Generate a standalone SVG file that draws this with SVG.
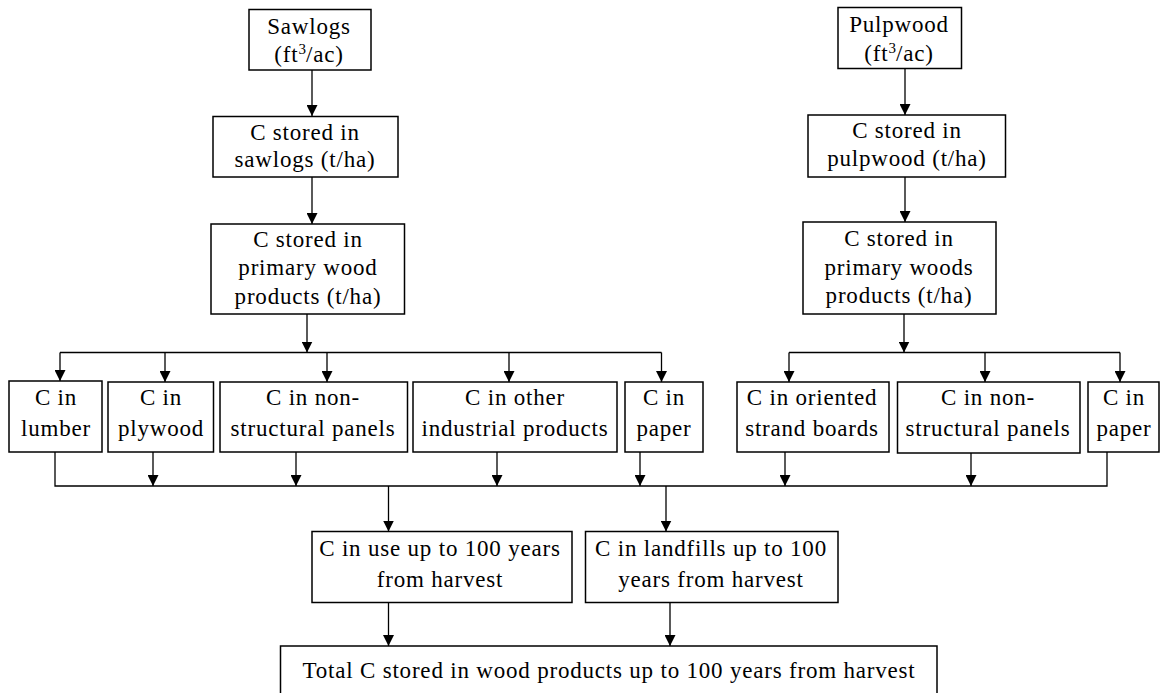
<svg xmlns="http://www.w3.org/2000/svg" width="1160" height="693" viewBox="0 0 1160 693">
<defs>
<style>
.box{fill:#fff;stroke:#000;stroke-width:1.5}
.ln{fill:none;stroke:#000;stroke-width:1.3}
text{font-family:"Liberation Serif","Times New Roman",serif;font-size:23px;letter-spacing:0.8px;fill:#000;text-anchor:middle}
.sup{font-size:15px;letter-spacing:0}
</style>
<marker id="ah" viewBox="0 0 11 11" refX="11" refY="5.5" markerWidth="11" markerHeight="11" markerUnits="userSpaceOnUse" orient="auto">
<path d="M0,0 L11,5.5 L0,11 z" fill="#000"/>
</marker>
</defs>
<rect width="1160" height="693" fill="#fff"/>

<g id="connectors">
<path class="ln" marker-end="url(#ah)" d="M312,70 V116"/>
<path class="ln" marker-end="url(#ah)" d="M312,177 V224"/>
<path class="ln" marker-end="url(#ah)" d="M307,314 V352.5"/>
<path class="ln" marker-end="url(#ah)" d="M905,68.5 V115"/>
<path class="ln" marker-end="url(#ah)" d="M905,177 V222"/>
<path class="ln" marker-end="url(#ah)" d="M904,314 V352.5"/>
<path class="ln" d="M60,352.5 H661.5"/>
<path class="ln" marker-end="url(#ah)" d="M60,352.5 V381"/>
<path class="ln" marker-end="url(#ah)" d="M165,352.5 V382"/>
<path class="ln" marker-end="url(#ah)" d="M327,352.5 V382"/>
<path class="ln" marker-end="url(#ah)" d="M509,352.5 V382"/>
<path class="ln" marker-end="url(#ah)" d="M661.5,352.5 V382"/>
<path class="ln" d="M789,352.5 H1120"/>
<path class="ln" marker-end="url(#ah)" d="M789,352.5 V382"/>
<path class="ln" marker-end="url(#ah)" d="M985,352.5 V382"/>
<path class="ln" marker-end="url(#ah)" d="M1120,352.5 V382"/>
<path class="ln" d="M55,452 V486 H1107 V452"/>
<path class="ln" marker-end="url(#ah)" d="M153,452 V486"/>
<path class="ln" marker-end="url(#ah)" d="M296,452 V486"/>
<path class="ln" marker-end="url(#ah)" d="M497,452 V486"/>
<path class="ln" marker-end="url(#ah)" d="M640,452 V486"/>
<path class="ln" marker-end="url(#ah)" d="M785,452 V486"/>
<path class="ln" marker-end="url(#ah)" d="M971,453 V486"/>
<path class="ln" marker-end="url(#ah)" d="M388.5,486 V531.5"/>
<path class="ln" marker-end="url(#ah)" d="M666,486 V531.5"/>
<path class="ln" marker-end="url(#ah)" d="M388.5,602.5 V646"/>
<path class="ln" marker-end="url(#ah)" d="M670,602.5 V646"/>
</g>

<g id="sawlogs">
<rect class="box" x="249" y="9.5" width="122" height="60.5"/>
<text x="309" y="33.5">Sawlogs</text>
<text x="309" y="62">(ft<tspan class="sup" dy="-8">3</tspan><tspan dy="8">/ac)</tspan></text>
</g>
<g id="c-sawlogs">
<rect class="box" x="213" y="116.5" width="185" height="60.5"/>
<text x="305" y="140">C stored in</text>
<text x="305" y="167">sawlogs (t/ha)</text>
</g>
<g id="c-primary-wood">
<rect class="box" x="211" y="224" width="193.5" height="90"/>
<text x="308" y="247">C stored in</text>
<text x="308" y="275">primary wood</text>
<text x="308" y="304">products (t/ha)</text>
</g>
<g id="pulpwood">
<rect class="box" x="838" y="7.5" width="123.5" height="61"/>
<text x="899" y="32">Pulpwood</text>
<text x="899" y="61">(ft<tspan class="sup" dy="-8">3</tspan><tspan dy="8">/ac)</tspan></text>
</g>
<g id="c-pulpwood">
<rect class="box" x="808" y="115" width="197.5" height="62"/>
<text x="907" y="138">C stored in</text>
<text x="907" y="166">pulpwood (t/ha)</text>
</g>
<g id="c-primary-woods">
<rect class="box" x="803" y="222" width="193" height="92"/>
<text x="899" y="246">C stored in</text>
<text x="899" y="275">primary woods</text>
<text x="899" y="303">products (t/ha)</text>
</g>

<g id="lumber">
<rect class="box" x="9" y="381" width="93" height="71"/>
<text x="56" y="405">C in</text>
<text x="56" y="436">lumber</text>
</g>
<g id="plywood">
<rect class="box" x="108" y="382" width="105.5" height="70"/>
<text x="161" y="405">C in</text>
<text x="161" y="436">plywood</text>
</g>
<g id="nonstructural-left">
<rect class="box" x="220" y="382" width="187.5" height="70"/>
<text x="313" y="405">C in non-</text>
<text x="313" y="436">structural panels</text>
</g>
<g id="other-industrial">
<rect class="box" x="413" y="382" width="204" height="70"/>
<text x="515" y="405">C in other</text>
<text x="515" y="436">industrial products</text>
</g>
<g id="paper-left">
<rect class="box" x="625" y="382" width="78" height="70"/>
<text x="664" y="405">C in</text>
<text x="664" y="436">paper</text>
</g>
<g id="osb">
<rect class="box" x="737" y="382" width="152" height="70"/>
<text x="812" y="405">C in oriented</text>
<text x="812" y="436">strand boards</text>
</g>
<g id="nonstructural-right">
<rect class="box" x="897.5" y="382" width="182.5" height="71"/>
<text x="988" y="405">C in non-</text>
<text x="988" y="436">structural panels</text>
</g>
<g id="paper-right">
<rect class="box" x="1088" y="382" width="71" height="70"/>
<text x="1124" y="405">C in</text>
<text x="1124" y="436">paper</text>
</g>

<g id="in-use">
<rect class="box" x="312" y="531.5" width="260" height="71"/>
<text x="440" y="556">C in use up to 100 years</text>
<text x="440" y="587">from harvest</text>
</g>
<g id="landfills">
<rect class="box" x="585.5" y="531.5" width="252.5" height="71"/>
<text x="711" y="556">C in landfills up to 100</text>
<text x="711" y="587">years from harvest</text>
</g>
<g id="total">
<rect class="box" x="280.5" y="646" width="656.5" height="60"/>
<text x="609" y="678">Total C stored in wood products up to 100 years from harvest</text>
</g>
</svg>
